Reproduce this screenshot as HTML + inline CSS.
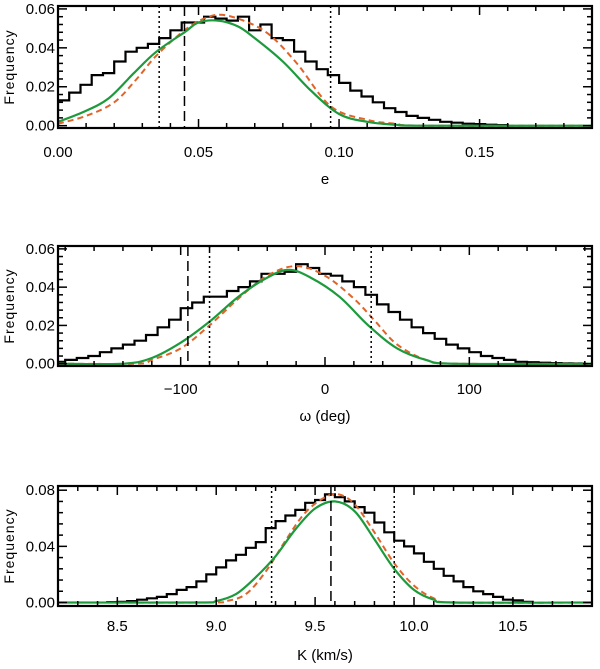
<!DOCTYPE html>
<html><head><meta charset="utf-8"><style>
html,body{margin:0;padding:0;background:#fff;}
svg{display:block;font-family:"Liberation Sans",sans-serif;}
</style></head><body>
<svg id="chart" width="600" height="669" viewBox="0 0 600 669"></svg>
<script>
// ---- Panel 1 (e) ----
const eBins=[0,0.004,0.008,0.012,0.016,0.020,0.024,0.028,0.032,0.036,0.040,0.044,0.048,0.052,0.056,0.060,0.064,0.068,0.072,0.076,0.080,0.084,0.088,0.092,0.096,0.100,0.104,0.108,0.112,0.116,0.120,0.124,0.128,0.132,0.136,0.140,0.144,0.148,0.152,0.156,0.160];
const eHist=[.013,.017,.021,.026,.027,.033,.038,.040,.042,.045,.049,.053,.053,.056,.055,.054,.056,.049,.052,.045,.044,.038,.033,.029,.026,.022,.018,.015,.012,.009,.007,.005,.004,.003,.002,.0015,.001,.0008,.0005,.0003];
const eGreenX=[0,0.009,0.018,0.027,0.035,0.045,0.050,0.057,0.064,0.070,0.080,0.090,0.100,0.110,0.120,0.130,0.19];
const eGreenY=[.002,.007,.014,.027,.038,.048,.053,.054,.051,.045,.033,.018,.006,.002,.0005,0,0];
const eOrangeX=[0,0.010,0.020,0.028,0.035,0.045,0.052,0.058,0.066,0.075,0.085,0.097,0.110,0.120,0.130,0.19];
const eOrangeY=[.001,.005,.012,.024,.036,.049,.055,.057,.054,.047,.032,.010,.003,.001,0,0];
const eDashed=[0.045];
const eDotted=[0.036,0.097];
const eXTicks=[0,0.05,0.10,0.15];
const eXLabels=["0.00","0.05","0.10","0.15"];
const eYTicks=[0,0.02,0.04,0.06];
const eYLabels=["0.00","0.02","0.04","0.06"];
// ---- Panel 2 (omega) ----
const wBins=[-188,-180,-172,-164,-156,-148,-140,-132,-124,-116,-108,-100,-92,-84,-76,-68,-60,-52,-44,-36,-28,-20,-12,-4,4,12,20,28,36,44,52,60,68,76,84,92,100,108,116,124,132,140,148,156,164,172,180];
const wHist=[.001,.002,.003,.004,.006,.008,.010,.012,.015,.019,.023,.029,.032,.035,.035,.038,.040,.043,.047,.047,.048,.052,.050,.047,.046,.043,.040,.036,.031,.027,.023,.019,.016,.013,.010,.008,.006,.004,.003,.002,.001,.0008,.0005,.0003,.0002,.0001];
const wGreenX=[-185,-140,-120,-100,-80,-60,-40,-25,-10,10,30,50,70,90,185];
const wGreenY=[0,0,.003,.011,.022,.035,.045,.049,.045,.035,.020,.008,.002,0,0];
const wOrangeX=[-185,-130,-120,-100,-80,-60,-40,-20,0,20,35,50,70,90,185];
const wOrangeY=[0,0,.002,.008,.020,.034,.046,.051,.046,.034,.022,.010,.002,0,0];
const wDashed=[-95];
const wDotted=[-80,32];
const wXTicks=[-100,0,100];
const wXLabels=["\u2212100","0","100"];
const wYTicks=[0,0.02,0.04,0.06];
const wYLabels=["0.00","0.02","0.04","0.06"];
// ---- Panel 3 (K) ----
const kBins=[8.45,8.5,8.55,8.6,8.65,8.7,8.75,8.8,8.85,8.9,8.95,9.0,9.05,9.1,9.15,9.2,9.25,9.3,9.35,9.4,9.45,9.5,9.55,9.6,9.65,9.7,9.75,9.8,9.85,9.9,9.95,10.0,10.05,10.1,10.15,10.2,10.25,10.3,10.35,10.4,10.45,10.5,10.55,10.6];
const kHist=[.0003,.0005,.001,.002,.003,.004,.006,.009,.011,.015,.020,.025,.030,.034,.039,.043,.053,.058,.062,.066,.071,.073,.077,.075,.072,.068,.064,.057,.050,.044,.040,.035,.029,.024,.019,.015,.011,.008,.006,.004,.002,.0015,.0005];
const kGreenX=[8.2,8.9,9.0,9.1,9.2,9.3,9.4,9.5,9.6,9.7,9.8,9.9,10.0,10.1,10.2,10.9];
const kGreenY=[0,0,.001,.006,.018,.033,.052,.067,.072,.065,.045,.024,.009,.002,0,0];
const kOrangeX=[8.2,8.95,9.05,9.15,9.25,9.35,9.45,9.55,9.62,9.7,9.8,9.9,10.0,10.1,10.2,10.9];
const kOrangeY=[0,0,.001,.006,.022,.044,.064,.075,.077,.070,.050,.028,.012,.003,0,0];
const kDashed=[9.58];
const kDotted=[9.28,9.90];
const kXTicks=[8.5,9.0,9.5,10.0,10.5];
const kXLabels=["8.5","9.0","9.5","10.0","10.5"];
const kYTicks=[0,0.04,0.08];
const kYLabels=["0.00","0.04","0.08"];

const NS="http://www.w3.org/2000/svg";
const svg=document.getElementById('chart');
function mk(tag,attrs,parent){const e=document.createElementNS(NS,tag);for(const k in attrs)e.setAttribute(k,attrs[k]);(parent||svg).appendChild(e);return e;}

function smoothPath(px,py){
  let d='M'+px[0].toFixed(1)+','+py[0].toFixed(1);
  for(let i=0;i<px.length-1;i++){
    const x0=px[Math.max(i-1,0)],y0=py[Math.max(i-1,0)],x1=px[i],y1=py[i],x2=px[i+1],y2=py[i+1],x3=px[Math.min(i+2,px.length-1)],y3=py[Math.min(i+2,px.length-1)];
    const c1x=x1+(x2-x0)/6,c1y=y1+(y2-y0)/6,c2x=x2-(x3-x1)/6,c2y=y2-(y3-y1)/6;
    d+=' C'+c1x.toFixed(1)+','+c1y.toFixed(1)+' '+c2x.toFixed(1)+','+c2y.toFixed(1)+' '+x2.toFixed(1)+','+y2.toFixed(1);
  }
  return d;
}

function panel(o){
  const g=mk('g',{});
  
  
  const L=58,R=592,T=o.top,B=o.bottom;
  const xs=v=>L+(v-o.xmin)/(o.xmax-o.xmin)*(R-L);
  const ys=v=>B-(v-o.ymin)/(o.ymax-o.ymin)*(B-T);
  const clip='clip-'+o.name;
  const cp=mk('clipPath',{id:clip},g);mk('rect',{x:L,y:T,width:R-L,height:B-T},cp);
  const data=mk('g',{'clip-path':'url(#'+clip+')'},g);
  let d='M'+xs(o.bins[0])+','+ys(0);
  for(let i=0;i<o.hist.length;i++){d+=' L'+xs(o.bins[i]).toFixed(1)+','+ys(o.hist[i]).toFixed(1)+' L'+xs(o.bins[i+1]).toFixed(1)+','+ys(o.hist[i]).toFixed(1);}
  d+=' L'+xs(o.bins[o.hist.length])+','+ys(0);
  const h=mk('path',{d:d,fill:'none',stroke:'#000','stroke-width':2.2},data);
  
  
  const oc=mk('path',{d:smoothPath(o.ox.map(xs),o.oy.map(ys)),fill:'none',stroke:'#e0642a','stroke-width':2,'stroke-dasharray':'6,4'},data);
  
  
  const gc=mk('path',{d:smoothPath(o.gx.map(xs),o.gy.map(ys)),fill:'none',stroke:'#1c9a3c','stroke-width':2.2},data);
  
  
  o.dashed.forEach(v=>{const l=mk('line',{x1:xs(v),x2:xs(v),y1:T,y2:B,stroke:'#000','stroke-width':1.5,'stroke-dasharray':'10,5'},data);
    
    });
  o.dotted.forEach(v=>{const l=mk('line',{x1:xs(v),x2:xs(v),y1:T,y2:B,stroke:'#000','stroke-width':1.5,'stroke-dasharray':'2,3'},data);
    
    });
  const fr=mk('rect',{x:L,y:T,width:R-L,height:B-T,fill:'none',stroke:'#000','stroke-width':2.2},g);
  
  
  const xstep=o.xt[1]-o.xt[0];
  for(let v=o.xt[0]-xstep*5;v<=o.xmax+1e-9;v+=xstep/5){
    if(v<o.xmin-1e-9)continue;
    const major=o.xt.some(t=>Math.abs(t-v)<xstep/50);
    const len=major?9:5,x=xs(v);
    mk('line',{x1:x,x2:x,y1:B,y2:B-len,stroke:'#000','stroke-width':1.5},g);
    mk('line',{x1:x,x2:x,y1:T,y2:T+len,stroke:'#000','stroke-width':1.5},g);
  }
  o.xt.forEach((v,i)=>{const t=mk('text',{x:xs(v),y:o.xlabY,'text-anchor':'middle','font-size':15},g);t.textContent=o.xl[i];
    
    });
  const ystep=o.yt[1]-o.yt[0];
  for(let v=o.yt[0];v<=o.ymax+1e-9;v+=ystep/5){
    const major=o.yt.some(t=>Math.abs(t-v)<ystep/50);
    const len=major?9:5,y=ys(v);
    mk('line',{x1:L,x2:L+len,y1:y,y2:y,stroke:'#000','stroke-width':1.5},g);
    mk('line',{x1:R,x2:R-len,y1:y,y2:y,stroke:'#000','stroke-width':1.5},g);
  }
  o.yt.forEach((v,i)=>{const t=mk('text',{x:L-3,y:ys(v)+5,'text-anchor':'end','font-size':15},g);t.textContent=o.yl[i];
    
    });
  const xt=mk('text',{x:(L+R)/2,y:o.titleY,'text-anchor':'middle','font-size':15},g);xt.textContent=o.title;
  
  
  const yc=(T+B)/2;
  const yt=mk('text',{x:14,y:yc,'text-anchor':'middle','font-size':14,'letter-spacing':'1',transform:'rotate(-90 14 '+yc+')'},g);yt.textContent='Frequency';
  
  
}

panel({name:'panel-eccentricity',top:6,bottom:128,xmin:0,xmax:0.19,ymin:-0.0012,ymax:0.0615,
  bins:eBins,hist:eHist,gx:eGreenX,gy:eGreenY,ox:eOrangeX,oy:eOrangeY,dashed:eDashed,dotted:eDotted,
  xt:eXTicks,xl:eXLabels,yt:eYTicks,yl:eYLabels,xlabY:157,titleY:184,title:'e'});
panel({name:'panel-omega',top:246,bottom:366,xmin:-185,xmax:185,ymin:-0.0012,ymax:0.0615,
  bins:wBins,hist:wHist,gx:wGreenX,gy:wGreenY,ox:wOrangeX,oy:wOrangeY,dashed:wDashed,dotted:wDotted,
  xt:wXTicks,xl:wXLabels,yt:wYTicks,yl:wYLabels,xlabY:394,titleY:421,title:'\u03c9 (deg)'});
panel({name:'panel-k',top:486,bottom:606,xmin:8.2,xmax:10.9,ymin:-0.0025,ymax:0.083,
  bins:kBins,hist:kHist,gx:kGreenX,gy:kGreenY,ox:kOrangeX,oy:kOrangeY,dashed:kDashed,dotted:kDotted,
  xt:kXTicks,xl:kXLabels,yt:kYTicks,yl:kYLabels,xlabY:631,titleY:660,title:'K (km/s)'});
</script>
</body></html>
